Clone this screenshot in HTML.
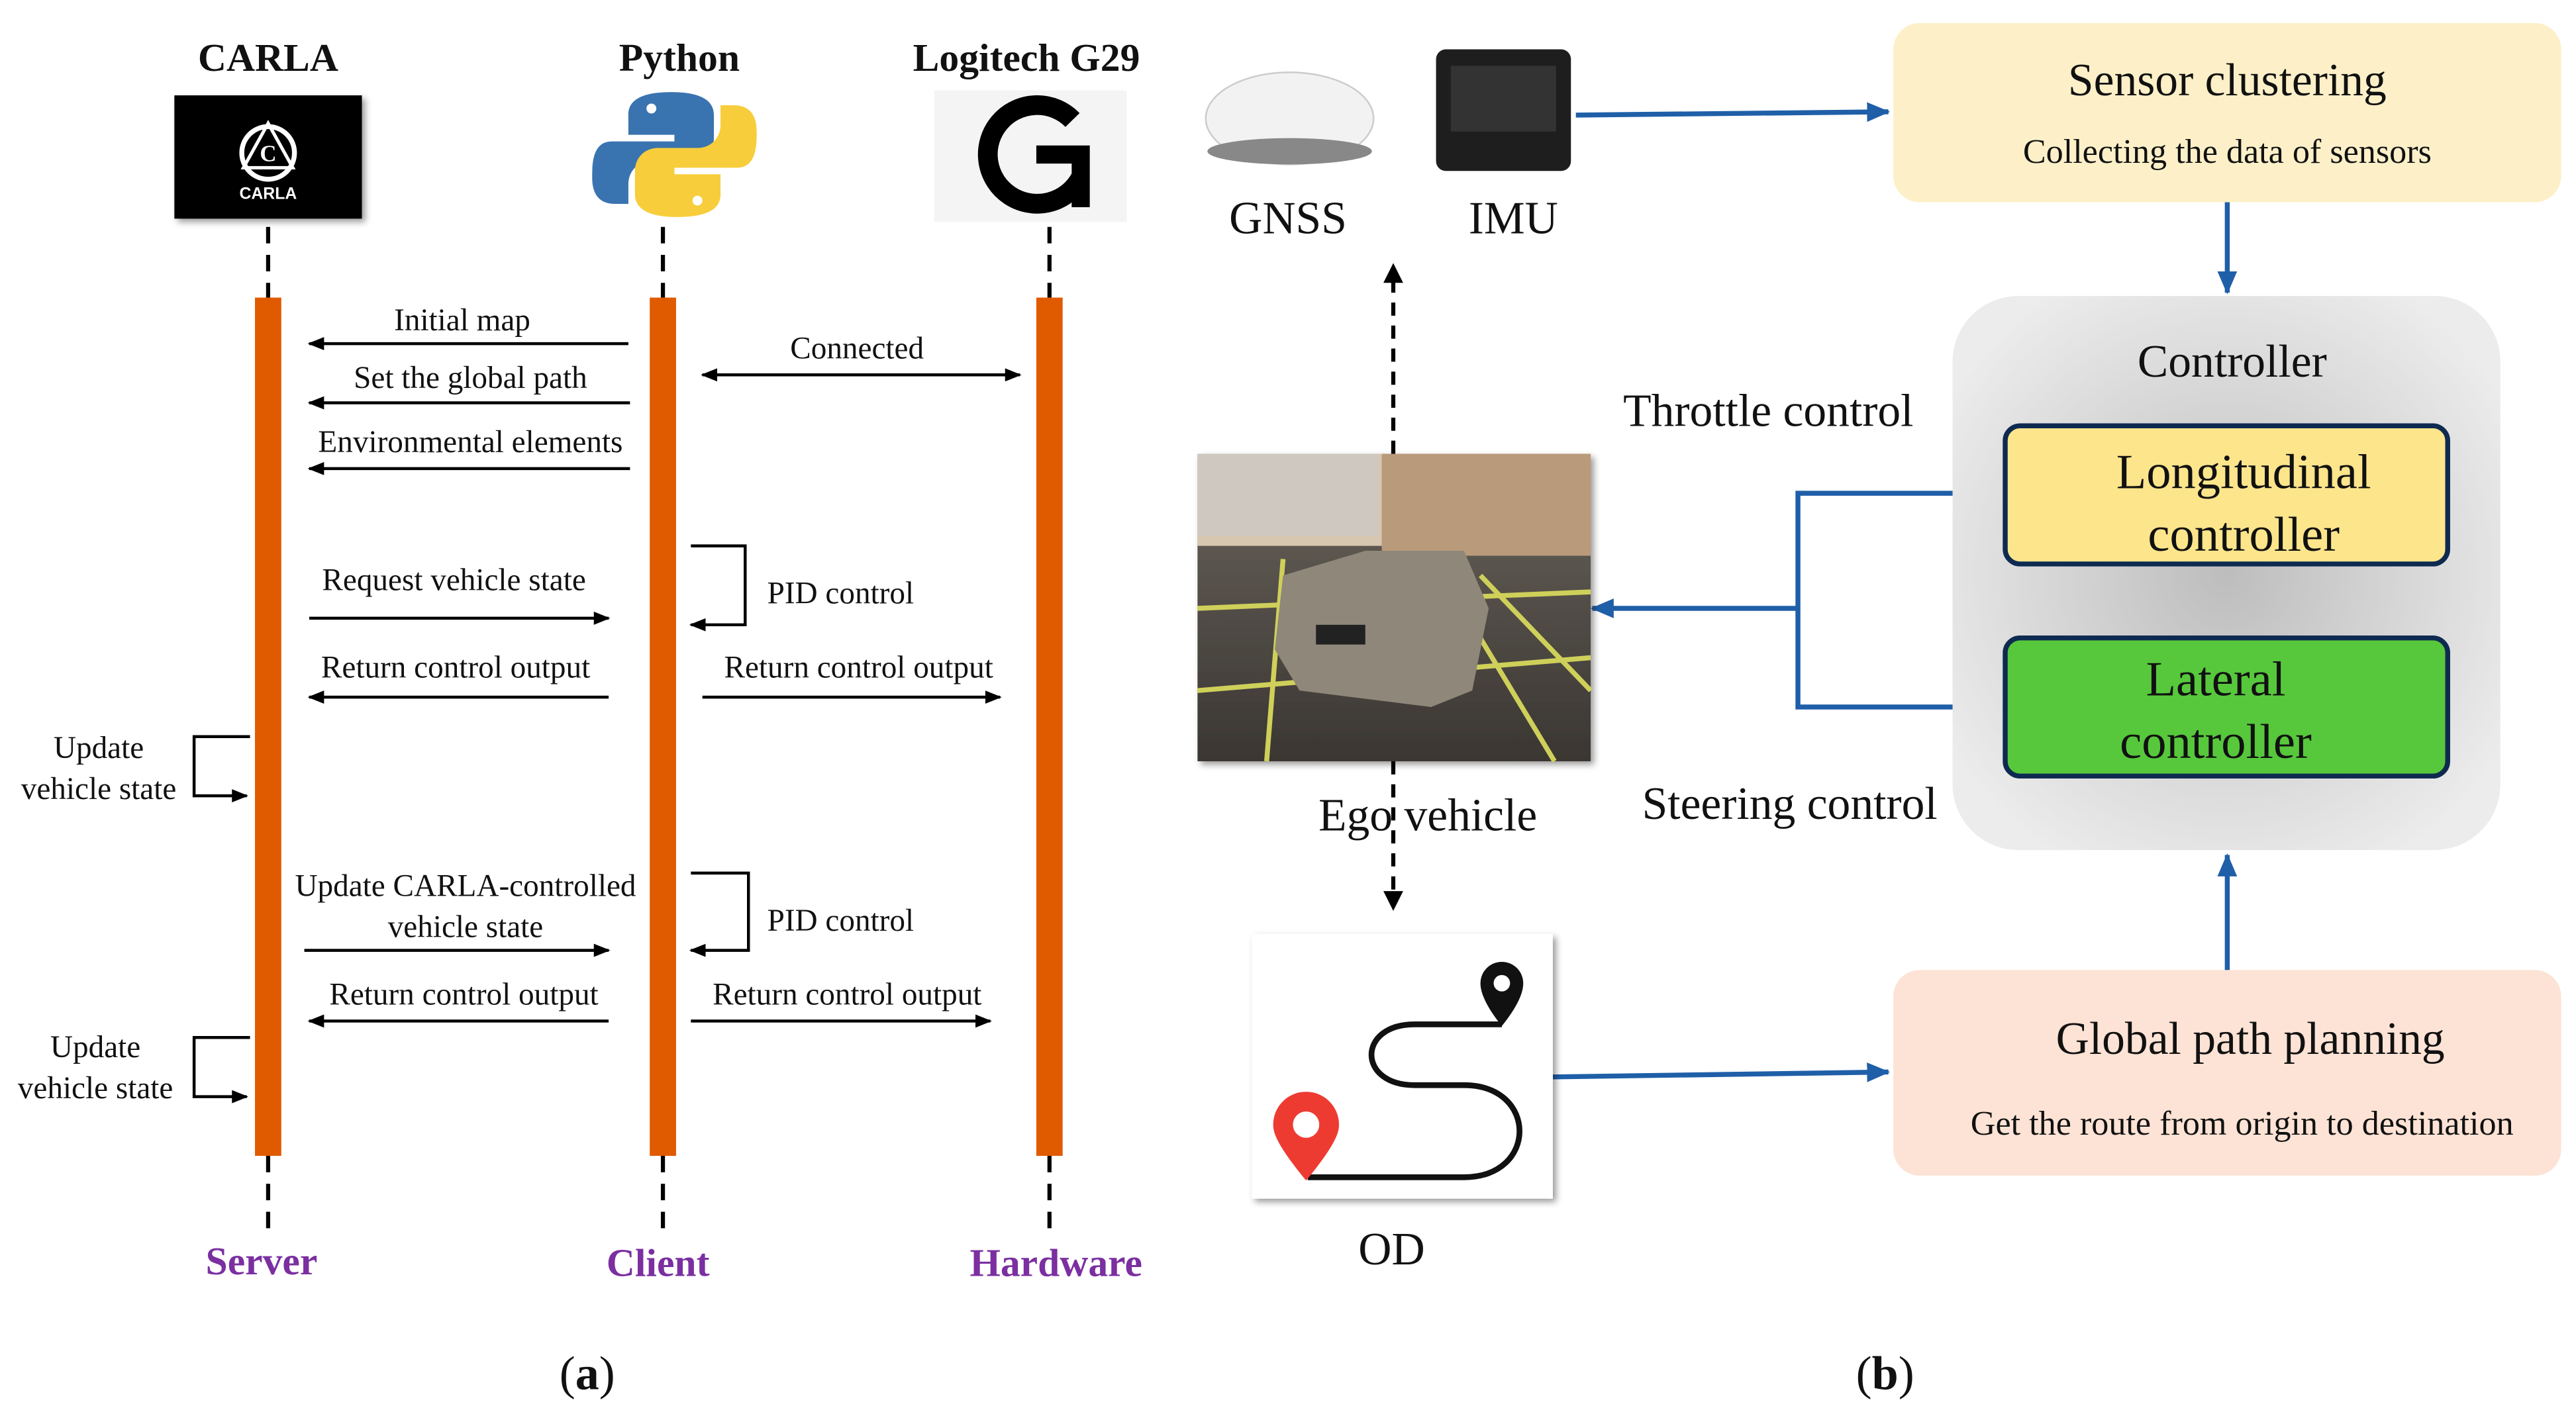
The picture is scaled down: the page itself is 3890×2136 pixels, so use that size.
<!DOCTYPE html>
<html><head><meta charset="utf-8"><style>
html,body{margin:0;padding:0;background:#fff;}
svg{display:block;}
text{font-family:"Liberation Serif",serif;fill:#111;}
</style></head><body>
<svg width="3890" height="2136" viewBox="0 0 1566 860" preserveAspectRatio="none" xmlns="http://www.w3.org/2000/svg">
<defs>
<marker id="ah" markerWidth="10" markerHeight="8" refX="9" refY="4" orient="auto" markerUnits="userSpaceOnUse"><path d="M0,0 L10,4 L0,8 Z" fill="#000"/></marker>
<marker id="ahs" markerWidth="10" markerHeight="8" refX="1" refY="4" orient="auto" markerUnits="userSpaceOnUse"><path d="M10,0 L0,4 L10,8 Z" fill="#000"/></marker>
<marker id="bh" markerWidth="14" markerHeight="12" refX="13" refY="6" orient="auto" markerUnits="userSpaceOnUse"><path d="M0,0 L14,6 L0,12 Z" fill="#1f5fa8"/></marker>
<radialGradient id="cg" cx="50%" cy="50%" r="60%"><stop offset="0" stop-color="#bdbdbd"/><stop offset="1" stop-color="#ececec"/></radialGradient>
<linearGradient id="road" x1="0" y1="0" x2="0" y2="1"><stop offset="0" stop-color="#6a645c"/><stop offset="1" stop-color="#3a3632"/></linearGradient>
<filter id="sh"><feDropShadow dx="2" dy="2" stdDeviation="2" flood-opacity="0.4"/></filter>
</defs>

<g font-weight="bold" font-size="24" text-anchor="middle">
<text x="163" y="43">CARLA</text>
<text x="413" y="43">Python</text>
<text x="624" y="43">Logitech G29</text>
</g>
<rect x="106" y="58" width="114" height="75" fill="#050505" filter="url(#sh)"/>
<circle cx="163" cy="93" r="16" fill="none" stroke="#fff" stroke-width="3"/>
<path d="M163,75 L148,102 L178,102 Z" fill="none" stroke="#fff" stroke-width="2"/>
<text x="163" y="98" font-size="14" font-weight="bold" text-anchor="middle" style="fill:#fff">C</text>
<text x="163" y="121" font-size="10" font-weight="bold" text-anchor="middle" style="fill:#fff;font-family:'Liberation Sans',sans-serif">CARLA</text>
<path d="M408,56 C380,56 382,68 382,72 L382,82 L410,82 L410,86 L372,86 C360,86 360,100 360,108 C360,120 366,124 374,124 L382,124 L382,112 C382,104 388,98 396,98 L420,98 C428,98 434,92 434,84 L434,70 C434,60 424,56 408,56 Z" fill="#3a74b0"/>
<path d="M412,132 C440,132 438,120 438,116 L438,106 L410,106 L410,102 L448,102 C460,102 460,88 460,80 C460,68 454,64 446,64 L438,64 L438,76 C438,84 432,90 424,90 L400,90 C392,90 386,96 386,104 L386,118 C386,128 396,132 412,132 Z" fill="#f7cd3b"/>
<circle cx="396" cy="66" r="3" fill="#fff"/><circle cx="424" cy="122" r="3" fill="#fff"/>
<rect x="568" y="55" width="117" height="80" fill="#f4f4f4"/>
<path d="M652,73 A30,30 0 1 0 657,108" fill="none" stroke="#000" stroke-width="12"/>
<path d="M630,94 L657,94 L657,126" fill="none" stroke="#000" stroke-width="11"/>

<g stroke="#000" stroke-width="2.5" stroke-dasharray="10,7">
<line x1="163" y1="138" x2="163" y2="181"/><line x1="163" y1="703" x2="163" y2="752"/>
<line x1="403" y1="138" x2="403" y2="181"/><line x1="403" y1="703" x2="403" y2="752"/>
<line x1="638" y1="138" x2="638" y2="181"/><line x1="638" y1="703" x2="638" y2="752"/>
</g>
<g fill="#e05a00">
<rect x="155" y="181" width="16" height="522"/>
<rect x="395" y="181" width="16" height="522"/>
<rect x="630" y="181" width="16" height="522"/>
</g>

<g stroke="#000" stroke-width="1.8" fill="none" marker-end="url(#ah)">
<line x1="382" y1="209" x2="188" y2="209"/>
<line x1="383" y1="245" x2="188" y2="245"/>
<line x1="383" y1="285" x2="188" y2="285"/>
<line x1="427" y1="228" x2="620" y2="228" marker-start="url(#ahs)"/>
<path d="M420,332 L453,332 L453,380 L420,380"/>
<line x1="188" y1="376" x2="370" y2="376"/>
<line x1="370" y1="424" x2="188" y2="424"/>
<line x1="427" y1="424" x2="608" y2="424"/>
<path d="M152,448 L118,448 L118,484 L150,484"/>
<path d="M420,531 L455,531 L455,578 L420,578"/>
<line x1="185" y1="578" x2="370" y2="578"/>
<line x1="370" y1="621" x2="188" y2="621"/>
<line x1="420" y1="621" x2="602" y2="621"/>
<path d="M152,631 L118,631 L118,667 L150,667"/>
</g>
<g font-size="19" text-anchor="middle">
<text x="281" y="201">Initial map</text>
<text x="286" y="236">Set the global path</text>
<text x="286" y="275">Environmental elements</text>
<text x="521" y="218">Connected</text>
<text x="511" y="367">PID control</text>
<text x="276" y="359">Request vehicle state</text>
<text x="277" y="412">Return control output</text>
<text x="522" y="412">Return control output</text>
<text x="60" y="461">Update</text><text x="60" y="486">vehicle state</text>
<text x="283" y="545">Update CARLA-controlled</text>
<text x="283" y="570">vehicle state</text>
<text x="511" y="566">PID control</text>
<text x="282" y="611">Return control output</text>
<text x="515" y="611">Return control output</text>
<text x="58" y="643">Update</text><text x="58" y="668">vehicle state</text>
</g>
<g font-size="24" font-weight="bold" text-anchor="middle">
<text x="159" y="775" style="fill:#7b2fa0">Server</text>
<text x="400" y="776" style="fill:#7b2fa0">Client</text>
<text x="642" y="776" style="fill:#7b2fa0">Hardware</text>
</g>
<text x="357" y="845" font-size="29" text-anchor="middle">(<tspan font-weight="bold">a</tspan>)</text>
<text x="1146" y="845" font-size="29" text-anchor="middle">(<tspan font-weight="bold">b</tspan>)</text>

<ellipse cx="784" cy="72" rx="51" ry="28" fill="#f2f2f2" stroke="#ccc"/>
<ellipse cx="784" cy="92" rx="50" ry="8" fill="#888"/>
<rect x="873" y="30" width="82" height="74" rx="6" fill="#1e1e1e"/>
<rect x="882" y="40" width="64" height="40" fill="#333"/>
<text x="783" y="142" font-size="28" text-anchor="middle">GNSS</text>
<text x="920" y="142" font-size="28" text-anchor="middle">IMU</text>

<g stroke="#1f5fa8" stroke-width="3" fill="none" marker-end="url(#bh)">
<line x1="958" y1="70" x2="1148" y2="68"/>
<line x1="1354" y1="123" x2="1354" y2="178"/>
<line x1="944" y1="655" x2="1148" y2="652"/>
<line x1="1354" y1="590" x2="1354" y2="520"/>
<line x1="1093" y1="370" x2="968" y2="370"/>
</g>
<path d="M1219,300 L1093,300 L1093,430 L1219,430" stroke="#1f5fa8" stroke-width="3" fill="none"/>

<rect x="1151" y="14" width="406" height="109" rx="16" fill="#fdf0c8"/>
<text x="1354" y="58" font-size="28" text-anchor="middle">Sensor clustering</text>
<text x="1354" y="99" font-size="21" text-anchor="middle">Collecting the data of sensors</text>

<rect x="1187" y="180" width="333" height="337" rx="40" fill="url(#cg)"/>
<text x="1357" y="229" font-size="28" text-anchor="middle">Controller</text>
<rect x="1219" y="259" width="269" height="84" rx="9" fill="#fde58c" stroke="#0e2a50" stroke-width="3"/>
<text x="1364" y="297" font-size="30" text-anchor="middle">Longitudinal</text>
<text x="1364" y="335" font-size="30" text-anchor="middle">controller</text>
<rect x="1219" y="388" width="269" height="84" rx="9" fill="#57c83c" stroke="#0e2a50" stroke-width="3"/>
<text x="1347" y="423" font-size="30" text-anchor="middle">Lateral</text>
<text x="1347" y="461" font-size="30" text-anchor="middle">controller</text>
<text x="1075" y="259" font-size="28" text-anchor="middle">Throttle control</text>
<text x="1088" y="498" font-size="28" text-anchor="middle">Steering control</text>

<g filter="url(#sh)">
<rect x="728" y="276" width="239" height="187" fill="url(#road)"/>
</g>
<rect x="728" y="276" width="239" height="56" fill="#d8c7b0"/>
<rect x="728" y="276" width="110" height="50" fill="#cfc8c0"/>
<rect x="840" y="276" width="127" height="62" fill="#b99a7a"/>
<g stroke="#cfd05a" stroke-width="3" fill="none">
<line x1="728" y1="370" x2="967" y2="360"/><line x1="728" y1="420" x2="967" y2="400"/>
<line x1="780" y1="340" x2="770" y2="463"/><line x1="880" y1="355" x2="945" y2="463"/>
<line x1="900" y1="350" x2="967" y2="420"/>
</g>
<path d="M780,350 L830,335 L890,335 L905,370 L895,420 L870,430 L790,420 L775,395 Z" fill="#8f8779"/>
<rect x="800" y="380" width="30" height="12" fill="#222"/>

<g stroke="#000" stroke-width="2.5" stroke-dasharray="8,6" fill="none">
<line x1="847" y1="276" x2="847" y2="170"/>
<line x1="847" y1="463" x2="847" y2="545"/>
</g>
<path d="M841,172 L847,160 L853,172 Z" fill="#000"/>
<path d="M841,542 L847,554 L853,542 Z" fill="#000"/>
<text x="868" y="505" font-size="28" text-anchor="middle">Ego vehicle</text>

<rect x="761" y="568" width="183" height="161" fill="#fff" filter="url(#sh)"/>
<path d="M913,623 L860,623 C825,623 825,660 860,660 L890,660 C935,660 935,716 890,716 L795,716" stroke="#111" stroke-width="3.5" fill="none"/>
<path d="M913,624 C900,608 900,600 900,598 A13,13 0 0 1 926,598 C926,600 926,608 913,624 Z" fill="#111"/>
<circle cx="913" cy="598" r="5" fill="#fff"/>
<path d="M794,718 C775,695 774,688 774,684 A20,20 0 0 1 814,684 C814,688 813,695 794,718 Z" fill="#ee3b32"/>
<circle cx="794" cy="684" r="8" fill="#fff"/>
<text x="846" y="769" font-size="28" text-anchor="middle">OD</text>

<rect x="1151" y="590" width="406" height="125" rx="16" fill="#fde3d5"/>
<text x="1368" y="641" font-size="28" text-anchor="middle">Global path planning</text>
<text x="1363" y="690" font-size="21" text-anchor="middle">Get the route from origin to destination</text>
</svg>
</body></html>
